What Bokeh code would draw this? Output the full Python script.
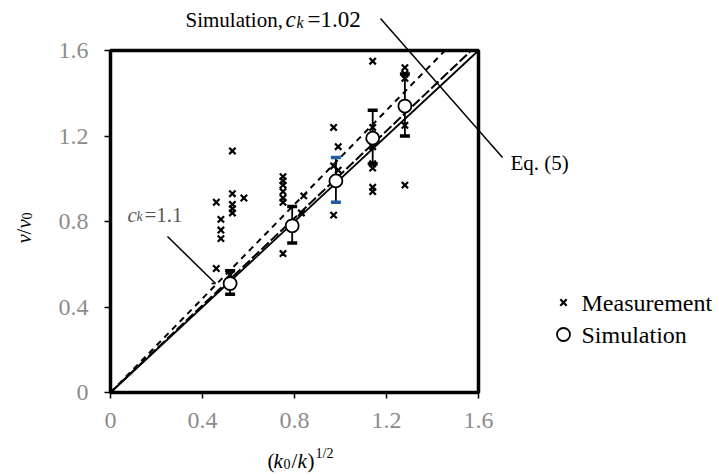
import math
from bokeh.plotting import figure
from bokeh.models import Label, Arrow, Range1d, FixedTicker, BoxAnnotation
from bokeh.embed import file_html
from bokeh.resources import INLINE

# ---------------- data ----------------
tick_values = [0, 0.4, 0.8, 1.2, 1.6]
tick_labels = ["0", "0.4", "0.8", "1.2", "1.6"]

# simulation means with error bars
sim_x = [0.52, 0.79, 0.98, 1.14, 1.28]
sim_y = [0.51, 0.78, 0.99, 1.19, 1.34]
sim_upper = [0.57, 0.87, 1.10, 1.32, 1.49]
sim_lower = [0.46, 0.70, 0.89, 1.07, 1.20]

# measurements
meas_x = [0.46, 0.46, 0.48, 0.48, 0.48, 0.53, 0.53, 0.53, 0.53, 0.53, 0.58, 0.52,
          0.75, 0.75, 0.75, 0.75, 0.75, 0.75, 0.75, 0.84, 0.83,
          0.97, 0.99, 0.97, 0.99, 0.97,
          1.14, 1.14, 1.14, 1.14, 1.14, 1.14, 1.14,
          1.28, 1.28, 1.28, 1.28, 1.28]
meas_y = [0.89, 0.58, 0.81, 0.76, 0.72, 1.13, 0.93, 0.88, 0.86, 0.84, 0.91, 0.55,
          1.01, 0.99, 0.97, 0.94, 0.91, 0.89, 0.65, 0.92, 0.84,
          1.24, 1.15, 1.06, 1.04, 0.83,
          1.55, 1.24, 1.15, 1.07, 1.05, 0.96, 0.94,
          1.52, 1.49, 1.47, 1.25, 0.97]

# reference lines y = c * x
eq5_slope = 1.0
ck_sim = 1.02
ck_fit = 1.1
axis_max = 1.6

legend_labels = ["Measurement", "Simulation"]

# ---------------- layout ----------------
W, H = 719, 475
FL, FR, FT, FB = 110, 478, 50, 392  # pixel edges of the plotting box


def dx(px):
    return (px - FL) / (FR - FL) * axis_max


def dy(py):
    return (FB - py) / (FB - FT) * axis_max


# the frame covers the whole canvas so that annotations outside the box are visible
p = figure(width=W, height=H, output_backend="svg", toolbar_location=None,
           x_range=Range1d(dx(0), dx(W)), y_range=Range1d(dy(H), dy(0)),
           min_border_left=0, min_border_right=0, min_border_top=0, min_border_bottom=0,
           title=None)
p.background_fill_color = "white"
p.border_fill_color = "white"
p.grid.visible = False
p.outline_line_color = None

for ax in (p.xaxis[0], p.yaxis[0]):
    ax.fixed_location = 0
    ax.bounds = (0, axis_max)
    ax.ticker = FixedTicker(ticks=tick_values)
    ax.major_label_overrides = {v: s for v, s in zip(tick_values, tick_labels)}
    ax.axis_line_width = 3
    ax.axis_line_color = "black"
    ax.major_tick_line_width = 1.5
    ax.major_tick_in = 0
    ax.major_tick_out = 6
    ax.minor_tick_line_color = None
    ax.major_label_text_font = "Liberation Serif"
    ax.major_label_text_font_size = "24px"
    ax.major_label_text_color = "#8c8c8c"
p.xaxis.major_label_standoff = 14
p.yaxis.major_label_standoff = 16

# the box around the plotting area
p.add_layout(BoxAnnotation(left=0, right=axis_max, bottom=0, top=axis_max,
                           fill_alpha=0, line_color="black", line_alpha=1.0, line_width=3.5))


# lines
def line_for(c, **kw):
    xe = min(axis_max, axis_max / c)
    return p.line([0, xe], [0, c * xe], **kw)


line_for(eq5_slope, line_color="black", line_width=1.8)
line_for(ck_sim, line_color="black", line_width=2, line_dash="10 3")
line_for(ck_fit, line_color="black", line_width=2, line_dash="6 5")

# error bars
p.segment(x0=sim_x, y0=sim_lower, x1=sim_x, y1=sim_upper, line_color="black", line_width=1.8)
cap_colors = ["#1f5f9e" if i == 2 else "black" for i in range(len(sim_x))]
p.scatter(x=sim_x + sim_x, y=sim_upper + sim_lower, marker="dash", size=10,
          line_width=3.5, line_color=cap_colors + cap_colors)

meas_style = dict(marker="x", size=9, line_width=2.2, line_color="black")
sim_style = dict(marker="circle", size=13, line_width=1.8, line_color="black", fill_color="white")
p.scatter(x=meas_x, y=meas_y, **meas_style)
p.scatter(x=sim_x, y=sim_y, **sim_style)

SHIFT = 8  # Label text sits this many pixels lower than its alphabetic anchor


def piece(text, px, py, size, italic=False, color="black", angle=0.0):
    if angle:
        px = px - SHIFT
    else:
        py = py - SHIFT
    p.add_layout(Label(x=dx(px), y=dy(py), text=text, text_font="Liberation Serif",
                       text_font_size=f"{size}px",
                       text_font_style="italic" if italic else "normal",
                       text_color=color, text_baseline="alphabetic",
                       text_align="left", angle=angle))


# legend (drawn by hand so it sits outside the box, in a serif face)
p.scatter(x=[dx(563)], y=[dy(302)], **meas_style)
p.scatter(x=[dx(563)], y=[dy(334)], **sim_style)
piece(legend_labels[0], 581, 310, 24)
piece(legend_labels[1], 581, 342, 24)

# top annotation
piece("Simulation, ", 185, 27, 21)
piece("c", 285, 27, 23, italic=True)
piece("k", 296, 30, 16, italic=True)
piece("=1.02", 307, 27, 23)
p.add_layout(Arrow(end=None, x_start=dx(380), y_start=dy(18), x_end=dx(502), y_end=dy(157),
                   line_width=1.5, line_color="black"))
piece("Eq. (5)", 510, 170, 21)

# ck = 1.1 annotation
gray = "#555555"
piece("c", 127, 222, 21, italic=True, color=gray)
piece("k", 136, 224, 14, italic=True, color=gray)
piece("=1.1", 144, 222, 21, color=gray)
p.add_layout(Arrow(end=None, x_start=dx(167), y_start=dy(236), x_end=dx(215), y_end=dy(283),
                   line_width=1.5, line_color="black"))
p.add_layout(Arrow(end=None, x_start=dx(211), y_start=dy(283), x_end=dx(215), y_end=dy(283),
                   line_width=1.5, line_color="black"))

# x axis title (k0/k)^1/2
piece("(", 267, 468, 21)
piece("k", 273, 468, 21, italic=True)
piece("0", 283, 471, 14)
piece("/", 291, 468, 21)
piece("k", 297, 468, 21, italic=True)
piece(")", 307, 468, 21)
piece("1/2", 315, 461, 14)

# y axis title v/v0 (rotated)
rot = math.pi / 2
piece("v", 31, 243, 21, italic=True, angle=rot)
piece("/", 31, 234, 21, angle=rot)
piece("v", 31, 228, 21, italic=True, angle=rot)
piece("0", 34, 219, 14, angle=rot)

open("out.html", "w").write(file_html(p, INLINE))
